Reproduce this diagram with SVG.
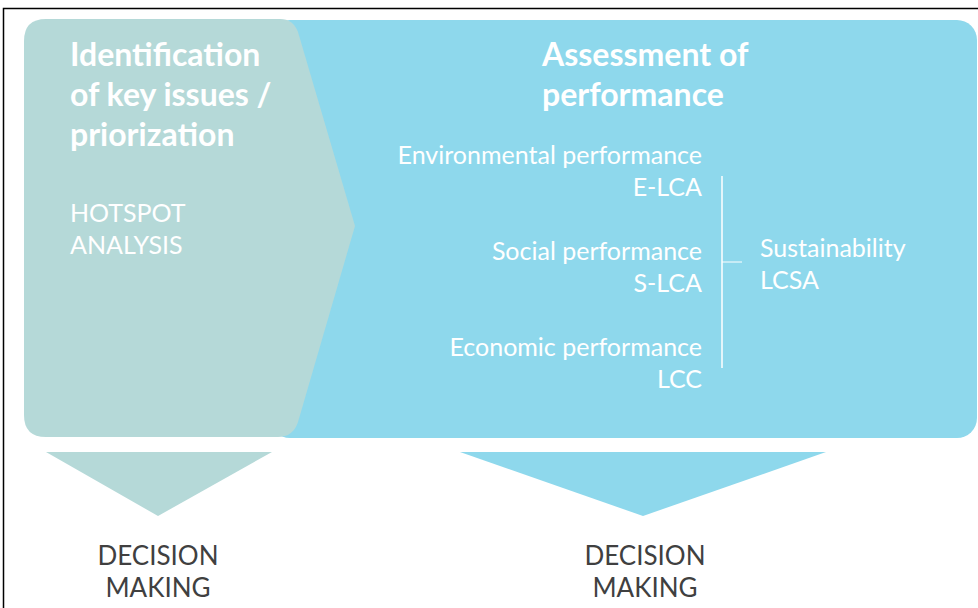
<svg xmlns="http://www.w3.org/2000/svg" width="978" height="608" viewBox="0 0 978 608">
<style>
.head{font-family:Lato,"Open Sans","Liberation Sans",sans-serif;font-weight:bold;font-size:32px;fill:#ffffff}
.sub{font-family:Lato,"Open Sans","Liberation Sans",sans-serif;font-size:25px;fill:#ffffff}
.item{font-family:Lato,"Open Sans","Liberation Sans",sans-serif;font-size:25px;fill:#ffffff;text-anchor:end}
.dec{font-family:Lato,"Open Sans","Liberation Sans",sans-serif;font-size:26px;fill:#404040;text-anchor:middle}
</style>
<rect x="0" y="0" width="978" height="608" fill="#ffffff"/>
<path d="M3.5,608 L3.5,8.5 L978,8.5" fill="none" stroke="#000000" stroke-width="1.5"/>
<g id="assessment">
<rect x="270" y="20" width="707" height="418" rx="20" fill="#8ed8ec"/>
<text class="head" x="542" y="66">Assessment of</text>
<text class="head" x="542" y="106">performance</text>
<text class="item" x="702" y="164">Environmental performance</text>
<text class="item" x="702" y="196">E-LCA</text>
<text class="item" x="702" y="260">Social performance</text>
<text class="item" x="702" y="292">S-LCA</text>
<text class="item" x="702" y="356">Economic performance</text>
<text class="item" x="702" y="388">LCC</text>
<text class="sub" x="760" y="257">Sustainability</text>
<text class="sub" x="760" y="289">LCSA</text>
</g>
<g id="identification">
<path d="M24,41 Q24,19 46,19 L280,19 Q293,19 298,32 L355,226 L298,422 Q293,437 278,437 L46,437 Q24,437 24,415 Z" fill="#b5d9d8"/>
<text class="head" x="70" y="66">Identification</text>
<text class="head" x="70" y="106">of key issues /</text>
<text class="head" x="70" y="146">priorization</text>
<text class="sub" x="70" y="222">HOTSPOT</text>
<text class="sub" x="70" y="254">ANALYSIS</text>
</g>
<g id="connectors">
<line x1="722" y1="176" x2="722" y2="368" stroke="#ffffff" stroke-width="1.5"/>
<line x1="722" y1="262" x2="742" y2="262" stroke="#ffffff" stroke-width="1"/>
<polygon points="46,452 272,452 158,516" fill="#b5d9d8"/>
<polygon points="460,452 826,452 643,516" fill="#8ed8ec"/>
</g>
<g id="decision-left">
<text class="dec" x="158" y="565">DECISION</text>
<text class="dec" x="158" y="597">MAKING</text>
</g>
<g id="decision-right">
<text class="dec" x="645" y="565">DECISION</text>
<text class="dec" x="645" y="597">MAKING</text>
</g>
</svg>
